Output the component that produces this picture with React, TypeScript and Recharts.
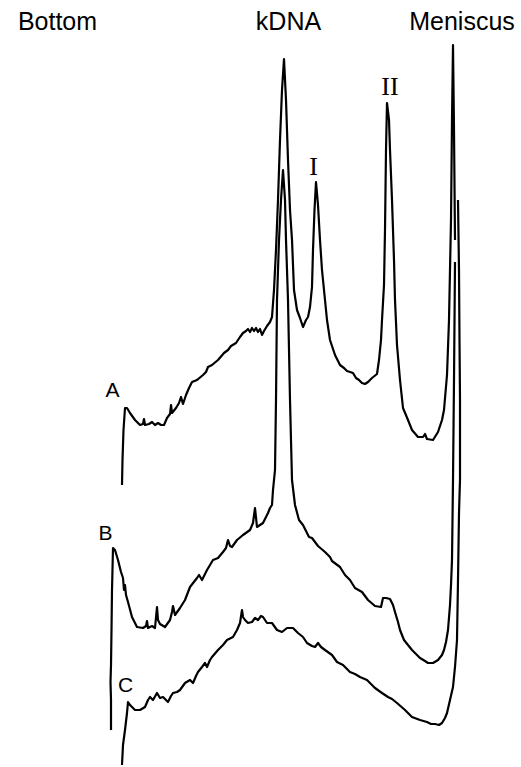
import React from 'react';
import { LineChart, Line, XAxis, YAxis, ReferenceDot } from 'recharts';

// Densitometer traces: [position along tube, deflection (pen position, downward)]
const traceA: [number, number][] = [
  [122, 485], [122.5, 460], [123.5, 430], [125, 408], [127, 408], [130, 413], [135, 420], [140, 425],
  [143, 424], [144, 419], [145, 425], [149, 424], [152, 422], [155, 425], [158, 423], [161, 425],
  [164, 425], [167, 418], [170, 414], [171, 405], [172, 413], [176, 408], [179, 403], [181, 397],
  [183, 404], [186, 395], [189, 388], [192, 382], [197, 380], [203, 375], [206, 372], [208, 367],
  [212, 365], [218, 360], [224, 353], [228, 350], [231, 346], [236, 343], [240, 337], [243, 333],
  [246, 331], [248, 329], [250, 332], [252, 328], [254, 331], [256, 328], [258, 332], [260, 329],
  [262, 335], [264, 331], [267, 326], [270, 322], [272, 317], [274, 290], [276, 250], [278, 200],
  [280, 140], [282, 90], [284, 59], [286, 100], [288, 160], [290, 210], [292, 240], [294, 290],
  [297, 310], [300, 318], [303, 327], [306, 320], [308, 317], [310, 307], [312, 287], [313, 250],
  [314.5, 210], [316, 182], [318, 205], [320, 240], [322, 270], [325, 300], [327, 320], [330, 340],
  [335, 355], [340, 365], [344, 368], [347, 371], [350, 372], [353, 373], [356, 378], [359, 380],
  [362, 383], [365, 384], [368, 382], [372, 378], [377, 374], [379, 360], [381, 340], [382, 320],
  [384, 285], [385, 230], [386, 150], [387, 103], [389, 120], [390, 150], [392, 200], [394, 260],
  [395, 300], [397, 345], [400, 380], [403, 408], [408, 420], [412, 430], [418, 437], [423, 437],
  [425, 434], [427, 439], [433, 440], [438, 432], [442, 420], [444, 410], [447, 375], [449, 320],
  [451, 220], [452, 120], [453, 45], [454, 130], [455, 240],
];

const traceB: [number, number][] = [
  [111, 730], [111, 700], [110.5, 682], [111, 665], [111.5, 630], [112, 590], [113, 548], [115, 550],
  [118, 560], [121, 572], [123, 578], [124, 590], [125, 585], [126, 595], [128, 602], [132, 617],
  [137, 627], [143, 628], [146, 626], [147, 621], [148, 628], [152, 626], [155, 628], [157, 607],
  [158, 620], [160, 624], [165, 627], [170, 620], [172, 612], [173, 606], [175, 615], [180, 608],
  [185, 600], [190, 587], [197, 578], [199, 575], [202, 580], [207, 570], [213, 560], [218, 558],
  [223, 552], [226, 548], [228, 540], [230, 546], [232, 547], [237, 540], [243, 535], [250, 530],
  [253, 523], [255, 508], [257, 527], [263, 523], [266, 517], [268, 513], [270, 508], [272, 505],
  [273, 490], [275, 470], [276, 400], [277, 300], [279, 240], [281, 200], [283, 170], [285, 200],
  [286, 240], [288, 300], [290, 400], [292, 480], [295, 505], [299, 520], [303, 525], [309, 537],
  [312, 538], [318, 546], [325, 552], [330, 557], [332, 561], [340, 567], [345, 575], [350, 580],
  [355, 588], [362, 592], [368, 600], [375, 606], [381, 607], [383, 598], [386, 598], [390, 599],
  [393, 605], [395, 612], [398, 622], [400, 630], [404, 640], [408, 645], [412, 650], [420, 658],
  [425, 661], [428, 663], [433, 663], [438, 660], [442, 655], [444, 650], [446, 642], [448, 630],
  [450, 605], [451, 585], [452, 560], [453, 480], [454, 380], [455, 262],
];

const traceC: [number, number][] = [
  [122, 765], [123, 745], [125, 730], [127, 713], [128, 702], [130, 705], [132, 707], [135, 710],
  [140, 710], [145, 707], [148, 700], [150, 697], [153, 700], [157, 693], [160, 698], [163, 697],
  [166, 700], [168, 702], [171, 696], [173, 693], [177, 692], [180, 690], [185, 683], [190, 680],
  [193, 683], [196, 676], [198, 672], [202, 667], [205, 663], [207, 667], [210, 660], [212, 657],
  [218, 650], [223, 645], [227, 640], [233, 637], [237, 630], [240, 623], [242, 610], [243, 617],
  [245, 620], [248, 623], [252, 622], [255, 618], [258, 620], [261, 616], [263, 617], [267, 623],
  [272, 623], [277, 630], [282, 632], [287, 628], [293, 628], [298, 633], [303, 637], [307, 643],
  [312, 646], [315, 647], [318, 643], [321, 647], [325, 650], [332, 655], [337, 662], [343, 665],
  [350, 672], [355, 674], [360, 677], [367, 680], [372, 685], [375, 688], [382, 693], [388, 697],
  [392, 699], [397, 703], [405, 710], [412, 717], [420, 720], [427, 722], [431, 724], [435, 724],
  [439, 725], [442, 723], [445, 718], [447, 713], [450, 700], [453, 687], [455, 667], [457, 640],
  [458, 580], [459, 513], [460, 480], [460, 400], [459.5, 340], [459, 270], [458, 200],
];

const headerLabels = ['Bottom', 'kDNA', 'Meniscus'];
const peakLabels = ['I', 'II'];
const traceLabels = ['A', 'B', 'C'];

const W = 521;
const H = 767;

const rows = (t: [number, number][]) => t.map(([x, y]) => ({ x, y }));

const sans = '"Liberation Sans", Arial, sans-serif';
const serif = '"Liberation Serif", "Times New Roman", serif';

export default function App() {
  const lineProps = {
    dataKey: 'y',
    stroke: '#000',
    strokeWidth: 2.2,
    dot: false,
    activeDot: false,
    isAnimationActive: false,
    strokeLinejoin: 'round' as const,
    type: 'linear' as const,
  };
  const head = { fill: '#000', fontSize: 25, fontFamily: sans, position: 'center' as const };
  const tl = { fill: '#000', fontSize: 21, fontFamily: sans, position: 'center' as const };
  const pk = { fill: '#000', fontSize: 26, fontFamily: serif, position: 'center' as const };
  return (
    <div style={{ position: 'absolute', left: 0, top: 0, width: W, height: H, background: '#fff' }}>
      <LineChart width={W} height={H} margin={{ top: 0, right: 0, bottom: 0, left: 0 }}>
        <XAxis type="number" dataKey="x" domain={[0, W]} hide allowDataOverflow />
        <YAxis type="number" domain={[0, H]} reversed hide allowDataOverflow />
        <Line data={rows(traceA)} {...lineProps} />
        <Line data={rows(traceB)} {...lineProps} />
        <Line data={rows(traceC)} {...lineProps} />
        <ReferenceDot x={57.5} y={21} r={0} label={{ value: headerLabels[0], ...head }} />
        <ReferenceDot x={288.5} y={21} r={0} label={{ value: headerLabels[1], ...head }} />
        <ReferenceDot x={462} y={21} r={0} label={{ value: headerLabels[2], ...head }} />
        <ReferenceDot x={313.5} y={166} r={0} label={{ value: peakLabels[0], ...pk }} />
        <ReferenceDot x={390} y={86} r={0} label={{ value: peakLabels[1], ...pk }} />
        <ReferenceDot x={112.5} y={390} r={0} label={{ value: traceLabels[0], ...tl }} />
        <ReferenceDot x={105.5} y={533} r={0} label={{ value: traceLabels[1], ...tl }} />
        <ReferenceDot x={125.5} y={685} r={0} label={{ value: traceLabels[2], ...tl }} />
      </LineChart>
    </div>
  );
}
